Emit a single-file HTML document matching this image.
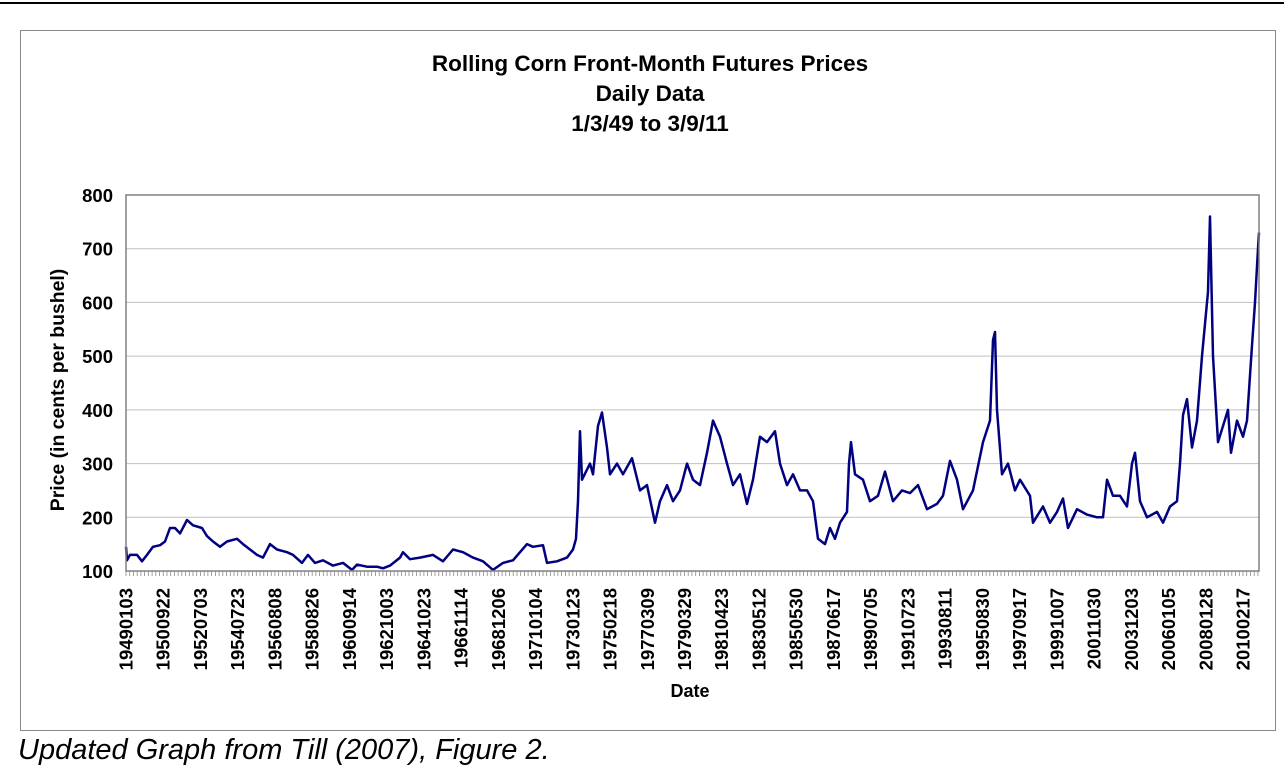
<!DOCTYPE html>
<html><head><meta charset="utf-8"><style>
body{margin:0;background:#fff;width:1284px;height:768px;overflow:hidden;font-family:"Liberation Sans",Arial,sans-serif}
</style></head><body>
<svg id="chart" width="1284" height="768" xmlns="http://www.w3.org/2000/svg">
<line x1="0" y1="3" x2="1284" y2="3" stroke="#000" stroke-width="2"/>
<rect x="20.5" y="30.5" width="1255" height="700" fill="#fff" stroke="#888" stroke-width="1"/>
<g font-weight="bold" font-size="22.5" text-anchor="middle">
<text x="650" y="71">Rolling Corn Front-Month Futures Prices</text>
<text x="650" y="101">Daily Data</text>
<text x="650" y="131">1/3/49 to 3/9/11</text>
</g>
<text transform="translate(64,390) rotate(-90)" text-anchor="middle" font-weight="bold" font-size="19.4">Price (in cents per bushel)</text>
<text x="690" y="697" text-anchor="middle" font-weight="bold" font-size="18">Date</text>
<g id="grid"></g><g id="yticks"></g><g id="xticks"></g><g id="xlabels"></g>
<path id="series" fill="none" stroke="#000080" stroke-width="2.5" stroke-linejoin="round"/>
<rect x="126" y="195" width="1133" height="376" fill="none" stroke="#808080" stroke-width="1.5"/>
<text x="18" y="759" font-style="italic" font-size="29">Updated Graph from Till (2007), Figure 2.</text>
</svg>
<script>
const yTicks=[100,200,300,400,500,600,700,800];
const xLabels=["19490103","19500922","19520703","19540723","19560808","19580826","19600914","19621003","19641023","19661114","19681206","19710104","19730123","19750218","19770309","19790329","19810423","19830512","19850530","19870617","19890705","19910723","19930811","19950830","19970917","19991007","20011030","20031203","20060105","20080128","20100217"];
const obs=[0,1,4,11,16,21,27,34,39,44,49,54,61,67,76,81,87,94,101,111,117,124,131,137,144,151,161,167,176,182,189,197,207,217,226,231,241,251,257,264,274,277,284,294,307,317,327,337,347,357,367,377,387,401,407,417,421,431,441,447,450,452,454,456,464,467,472,476,481,484,491,497,506,514,521,529,534,541,547,554,561,567,574,581,587,594,601,607,614,621,627,634,641,649,654,661,667,674,681,687,692,699,704,709,714,721,723,725,729,737,744,752,759,767,776,784,792,801,811,817,824,831,837,847,857,864,867,869,871,876,882,889,894,904,907,917,924,931,937,942,951,961,971,977,981,987,994,1001,1006,1009,1014,1021,1031,1037,1044,1051,1054,1057,1061,1066,1071,1076,1079,1082,1084,1087,1092,1097,1102,1105,1111,1117,1121,1126,1129,1132,1133];
const prices=[145,120,130,130,118,130,145,148,155,180,180,170,195,185,180,165,155,145,155,160,150,140,130,125,150,140,135,130,115,130,115,120,110,115,102,112,108,108,105,110,125,135,122,125,130,118,140,135,125,118,102,115,120,150,145,148,115,118,125,140,160,230,360,270,300,280,370,395,330,280,300,280,310,250,260,190,230,260,230,250,300,270,260,320,380,350,300,260,280,225,270,350,340,360,300,260,280,250,250,230,160,150,180,160,190,210,300,340,280,270,230,240,285,230,250,245,260,215,225,240,305,270,215,250,340,380,530,545,400,280,300,250,270,240,190,220,190,210,235,180,215,205,200,200,270,240,240,220,300,320,230,200,210,190,220,230,300,390,420,330,380,500,560,620,760,500,340,370,400,320,380,350,380,520,600,700,730];
const X0=126,X1=1259,Y0=571,Y1=195,OMAX=1133;
const xs=o=>X0+(o/OMAX)*(X1-X0);
const ys=v=>Y0-(v-100)/700*(Y0-Y1);
const NS="http://www.w3.org/2000/svg";
const grid=document.getElementById('grid'),yt=document.getElementById('yticks');
yTicks.forEach(v=>{
  if(v>100&&v<800){const l=document.createElementNS(NS,'line');
    l.setAttribute('x1',X0);l.setAttribute('x2',X1);l.setAttribute('y1',ys(v));l.setAttribute('y2',ys(v));
    l.setAttribute('stroke','#c0c0c0');l.setAttribute('stroke-width','1');
    
    
    grid.appendChild(l);}
  const t=document.createElementNS(NS,'text');
  t.setAttribute('x',113);t.setAttribute('y',ys(v)+7);t.setAttribute('text-anchor','end');
  t.setAttribute('font-weight','bold');t.setAttribute('font-size','18.5');t.textContent=v;
  
  
  yt.appendChild(t);
});
const xt=document.getElementById('xticks'),xl=document.getElementById('xlabels');
const step=(1243-126)/(xLabels.length-1);
let d='';
for(let i=0;i<=(xLabels.length-1)*10+4;i++){const x=126+i*step/10; if(x<=X1) d+=`M${x.toFixed(1)},${Y0}V${Y0+5}`;}
const tp=document.createElementNS(NS,'path');tp.setAttribute('d',d);tp.setAttribute('stroke','#888');tp.setAttribute('stroke-width','0.8');


xt.appendChild(tp);
xLabels.forEach((s,i)=>{const x=126+i*step;
  const t=document.createElementNS(NS,'text');
  t.setAttribute('transform',`translate(${x+6.5},588) rotate(-90)`);t.setAttribute('text-anchor','end');
  t.setAttribute('font-weight','bold');t.setAttribute('font-size','18.5');t.textContent=s;
  
  
  xl.appendChild(t);});
document.getElementById('series').setAttribute('d',obs.map((o,i)=>(i?'L':'M')+xs(o).toFixed(1)+','+ys(prices[i]).toFixed(1)).join(''));
</script>
</body></html>
